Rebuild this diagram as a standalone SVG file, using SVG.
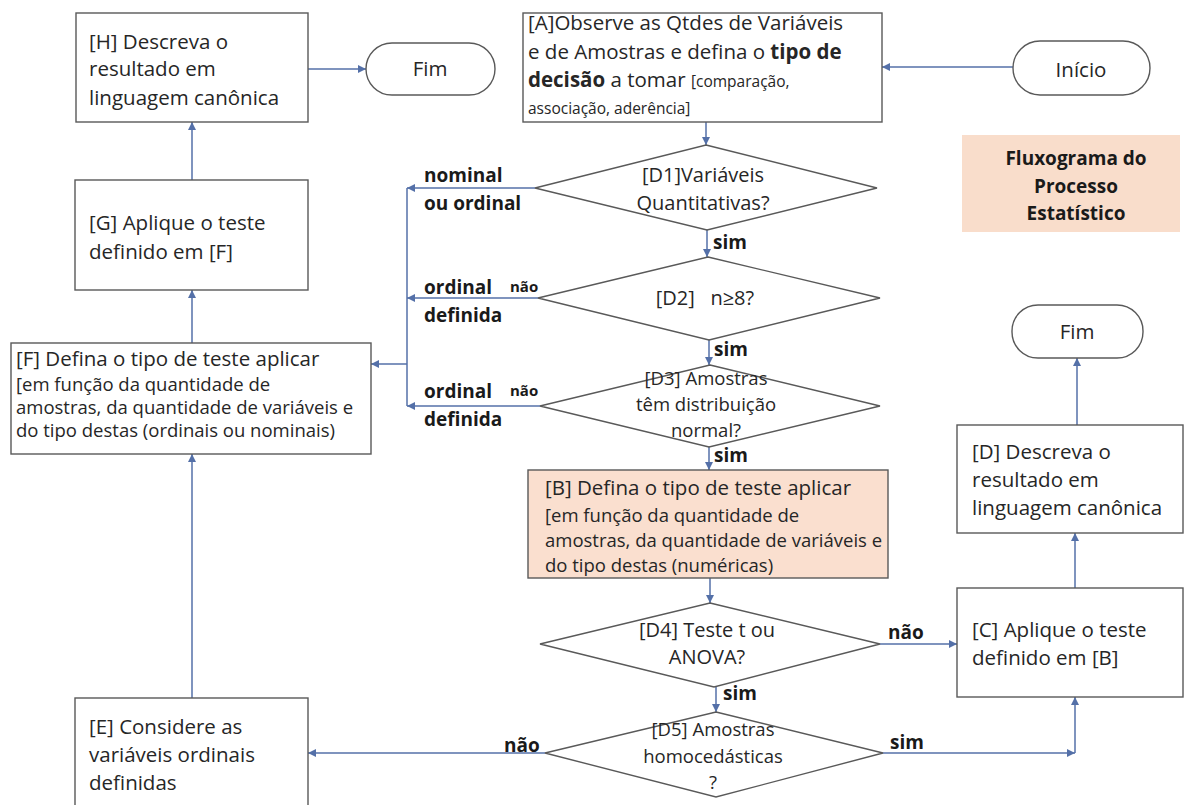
<svg xmlns="http://www.w3.org/2000/svg" width="1189" height="805" viewBox="0 0 1189 805">
<defs>
<style>
.box{fill:#ffffff;stroke:#595959;stroke-width:1.4}
.peach{fill:#FADFCF;stroke:#595959;stroke-width:1.4}
.t{font-family:"Open Sans","Liberation Sans",sans-serif;fill:#262626}
.m{font-size:20.5px}
.s{font-size:18.5px}
.xs{font-size:15.5px}
.dt{font-size:20px;text-anchor:middle}
.dts{font-size:18.5px;text-anchor:middle}
.lb{font-family:"Open Sans","Liberation Sans",sans-serif;font-weight:bold;font-size:19px;fill:#1a1a1a}
.lbs{font-family:"Open Sans","Liberation Sans",sans-serif;font-weight:bold;font-size:15px;fill:#1a1a1a}
.c{fill:none;stroke:#5470A8;stroke-width:1.5}
</style>
<marker id="ah" viewBox="0 0 10 10" refX="10" refY="5" markerWidth="9" markerHeight="8" orient="auto" markerUnits="userSpaceOnUse">
<path d="M0,0 L10,5 L0,10 z" fill="#5470A8"/>
</marker>
</defs>
<rect width="1189" height="805" fill="#ffffff"/>

<g id="connectors">
<path class="c" d="M1013,67 H882" marker-end="url(#ah)"/>
<path class="c" d="M706,122 V145" marker-end="url(#ah)"/>
<path class="c" d="M707,230 V257" marker-end="url(#ah)"/>
<path class="c" d="M709,340 V365" marker-end="url(#ah)"/>
<path class="c" d="M709,447 V470" marker-end="url(#ah)"/>
<path class="c" d="M710,578 V603" marker-end="url(#ah)"/>
<path class="c" d="M716,687 V712" marker-end="url(#ah)"/>
<path class="c" d="M880,644 H957" marker-end="url(#ah)"/>
<path class="c" d="M883,753 H1075" marker-end="url(#ah)"/>
<path class="c" d="M1075,753 V697" marker-end="url(#ah)"/>
<path class="c" d="M545,753 H308" marker-end="url(#ah)"/>
<path class="c" d="M1075,588 V533" marker-end="url(#ah)"/>
<path class="c" d="M1077,425 V358" marker-end="url(#ah)"/>
<path class="c" d="M535,188 H407" marker-end="url(#ah)"/>
<path class="c" d="M538,298 H407" marker-end="url(#ah)"/>
<path class="c" d="M540,406 H407" marker-end="url(#ah)"/>
<path class="c" d="M407,188 V406"/>
<path class="c" d="M407,364 H371" marker-end="url(#ah)"/>
<path class="c" d="M192,698 V454" marker-end="url(#ah)"/>
<path class="c" d="M192,343 V290" marker-end="url(#ah)"/>
<path class="c" d="M192,180 V122" marker-end="url(#ah)"/>
<path class="c" d="M308,69 H366" marker-end="url(#ah)"/>
</g>

<g id="labels">
<text class="lb" x="424" y="182">nominal</text>
<text class="lb" x="424" y="210">ou ordinal</text>
<text class="lb" x="424" y="294">ordinal</text>
<text class="lbs" x="510" y="292">não</text>
<text class="lb" x="424" y="322">definida</text>
<text class="lb" x="424" y="398">ordinal</text>
<text class="lbs" x="510" y="396">não</text>
<text class="lb" x="424" y="426">definida</text>
<text class="lb" x="713" y="249">sim</text>
<text class="lb" x="714" y="356">sim</text>
<text class="lb" x="714" y="462">sim</text>
<text class="lb" x="723" y="700">sim</text>
<text class="lb" x="888" y="639">não</text>
<text class="lb" x="890" y="749">sim</text>
<text class="lb" x="504" y="752">não</text>
</g>

<g id="H">
<rect class="box" x="76" y="13" width="232" height="109"/>
<text class="t m" x="89" y="49">[H] Descreva o</text>
<text class="t m" x="89" y="76">resultado em</text>
<text class="t m" x="89" y="105">linguagem canônica</text>
</g>

<g id="Fim1">
<rect class="box" x="366" y="43" width="129" height="52" rx="26"/>
<text class="t m" x="430" y="76" text-anchor="middle">Fim</text>
</g>

<g id="A">
<rect class="box" x="523" y="13" width="359" height="109"/>
<text class="t m" x="528" y="30">[A]Observe as Qtdes de Variáveis</text>
<text class="t m" x="528" y="59">e de Amostras e defina o <tspan font-weight="bold">tipo de</tspan></text>
<text class="t m" x="528" y="87"><tspan font-weight="bold">decisão</tspan> a tomar <tspan class="xs">[comparação,</tspan></text>
<text class="t xs" x="528" y="114">associação, aderência]</text>
</g>

<g id="Inicio">
<rect class="box" x="1013" y="41" width="137" height="54" rx="27"/>
<text class="t m" x="1081" y="77" text-anchor="middle">Início</text>
</g>

<g id="Titulo">
<rect x="962" y="135" width="218" height="97" fill="#F9DDCB"/>
<text class="lb" x="1076" y="165" text-anchor="middle">Fluxograma do</text>
<text class="lb" x="1076" y="193" text-anchor="middle">Processo</text>
<text class="lb" x="1076" y="220" text-anchor="middle">Estatístico</text>
</g>

<g id="G">
<rect class="box" x="75" y="180" width="233" height="110"/>
<text class="t m" x="89" y="230">[G] Aplique o teste</text>
<text class="t m" x="89" y="259">definido em [F]</text>
</g>

<g id="D1">
<polygon class="box" points="706,145 877,188 707,230 535,188"/>
<text class="t dt" x="703" y="182">[D1]Variáveis</text>
<text class="t dt" x="703" y="210">Quantitativas?</text>
</g>

<g id="D2">
<polygon class="box" points="708,257 880,298 709,340 538,298"/>
<text class="t dt" x="705" y="305" xml:space="preserve">[D2]   n≥8?</text>
</g>

<g id="F">
<rect class="box" x="11" y="343" width="360" height="111"/>
<text class="t m" x="16" y="366">[F] Defina o tipo de teste aplicar</text>
<text class="t s" x="16" y="391">[em função da quantidade de</text>
<text class="t s" x="16" y="414">amostras, da quantidade de variáveis e</text>
<text class="t s" x="16" y="437">do tipo destas (ordinais ou nominais)</text>
</g>

<g id="D3">
<polygon class="box" points="710,365 880,406 709,447 540,406"/>
<text class="t dts" x="706" y="385">[D3] Amostras</text>
<text class="t dts" x="706" y="411">têm distribuição</text>
<text class="t dts" x="706" y="437">normal?</text>
</g>

<g id="Fim2">
<rect class="box" x="1012" y="305" width="131" height="53" rx="26"/>
<text class="t m" x="1077" y="339" text-anchor="middle">Fim</text>
</g>

<g id="D">
<rect class="box" x="957" y="425" width="226" height="108"/>
<text class="t m" x="972" y="459">[D] Descreva o</text>
<text class="t m" x="972" y="487">resultado em</text>
<text class="t m" x="972" y="515">linguagem canônica</text>
</g>

<g id="B">
<rect class="peach" x="528" y="470" width="360" height="108"/>
<text class="t m" x="545" y="495">[B] Defina o tipo de teste aplicar</text>
<text class="t s" x="545" y="522">[em função da quantidade de</text>
<text class="t s" x="545" y="547">amostras, da quantidade de variáveis e</text>
<text class="t s" x="545" y="572">do tipo destas (numéricas)</text>
</g>

<g id="C">
<rect class="box" x="957" y="588" width="226" height="109"/>
<text class="t m" x="972" y="637">[C] Aplique o teste</text>
<text class="t m" x="972" y="665">definido em [B]</text>
</g>

<g id="D4">
<polygon class="box" points="710,603 880,644 714,687 540,644"/>
<text class="t dt" x="707" y="637">[D4] Teste t ou</text>
<text class="t dt" x="707" y="664">ANOVA?</text>
</g>

<g id="D5">
<polygon class="box" points="716,712 883,753 716,797 545,753"/>
<text class="t dts" x="713" y="736">[D5] Amostras</text>
<text class="t dts" x="713" y="763">homocedásticas</text>
<text class="t dts" x="713" y="789">?</text>
</g>

<g id="E">
<rect class="box" x="75" y="698" width="233" height="115"/>
<text class="t m" x="89" y="734">[E] Considere as</text>
<text class="t m" x="89" y="762">variáveis ordinais</text>
<text class="t m" x="89" y="790">definidas</text>
</g>
</svg>
